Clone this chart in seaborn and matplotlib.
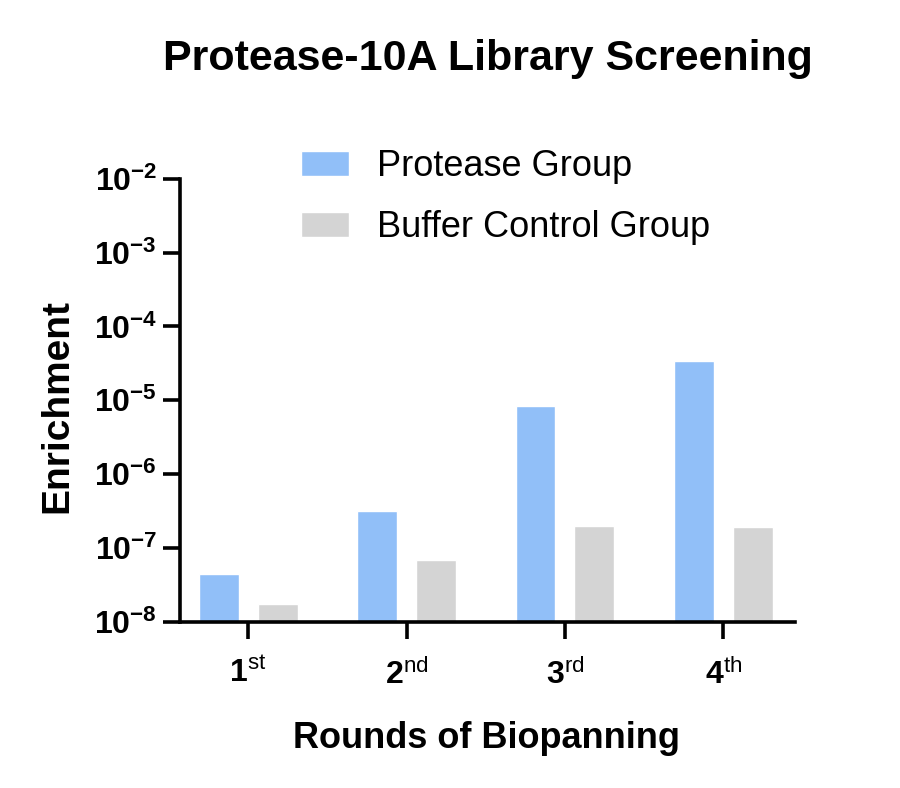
import pandas as pd
import matplotlib
matplotlib.use("Agg")
import matplotlib.pyplot as plt
import seaborn as sns

# values (log scale)
rounds = ["1st", "2nd", "3rd", "4th"]
round_labels = [r"$\mathbf{1}^{\mathrm{st}}$", r"$\mathbf{2}^{\mathrm{nd}}$",
                r"$\mathbf{3}^{\mathrm{rd}}$", r"$\mathbf{4}^{\mathrm{th}}$"]
protease = [4.5e-8, 3.2e-7, 8.3e-6, 3.4e-5]
buffer_ctrl = [1.75e-8, 6.8e-8, 2.0e-7, 1.9e-7]
groups = ["Protease Group", "Buffer Control Group"]
colors = ["#91bff8", "#d4d4d4"]

df = pd.DataFrame({
    "round": rounds * 2,
    "group": [groups[0]] * 4 + [groups[1]] * 4,
    "enrichment": protease + buffer_ctrl,
})

sns.set_style("ticks")
plt.rcParams["font.family"] = ["Liberation Sans", "DejaVu Sans"]
plt.rcParams["mathtext.fontset"] = "custom"
plt.rcParams["mathtext.rm"] = "Liberation Sans"
plt.rcParams["mathtext.bf"] = "Liberation Sans:bold"
plt.rcParams["mathtext.it"] = "Liberation Sans:italic"
plt.rcParams["text.color"] = "black"
plt.rcParams["xtick.color"] = "black"
plt.rcParams["ytick.color"] = "black"
plt.rcParams["axes.edgecolor"] = "black"

fig = plt.figure(figsize=(9, 7.88), dpi=100)
ax = fig.add_axes([0.2, 0.211, 0.683, 0.562])
ax.set_yscale("log")

sns.barplot(data=df, x="round", y="enrichment", hue="group",
            palette=colors, width=0.744, gap=0.323, ax=ax,
            saturation=1, errorbar=None)

ax.set_ylim(1e-8, 1e-2)
ax.set_xlim(-0.43, 3.45)
ax.set_yticks([1e-8, 1e-7, 1e-6, 1e-5, 1e-4, 1e-3, 1e-2])
ax.set_yticklabels([r"$\mathbf{10^{%d}}$" % e for e in range(-8, -1)])
ax.minorticks_off()
ax.set_xticks(range(4))
ax.set_xticklabels(round_labels)
ax.tick_params(axis="both", length=12.5, width=2.6, labelsize=23, pad=4)
ax.tick_params(axis="x", pad=14)
sns.despine(ax=ax)
for s in ["left", "bottom"]:
    ax.spines[s].set_linewidth(2.6)

ax.set_xlabel("")
ax.set_ylabel("")
fig.text(0.542, 1 - 70 / 788, "Protease-10A Library Screening",
         ha="center", va="baseline", fontsize=31, fontweight="bold")
fig.text(0.54, 1 - 748 / 788, "Rounds of Biopanning",
         ha="center", va="baseline", fontsize=26, fontweight="bold")
fig.text(67 / 900, 1 - 406 / 788, "Enrichment", rotation=90,
         rotation_mode="anchor", ha="center", va="baseline",
         fontsize=28, fontweight="bold")

handles, labels = ax.get_legend_handles_labels()
ax.legend(handles, labels, loc="upper left", bbox_to_anchor=(0.144, 1.14),
          frameon=False, fontsize=26, handlelength=1.33, handleheight=0.67,
          handletextpad=0.78, labelspacing=0.72)

fig.savefig("out.png", dpi=100)
